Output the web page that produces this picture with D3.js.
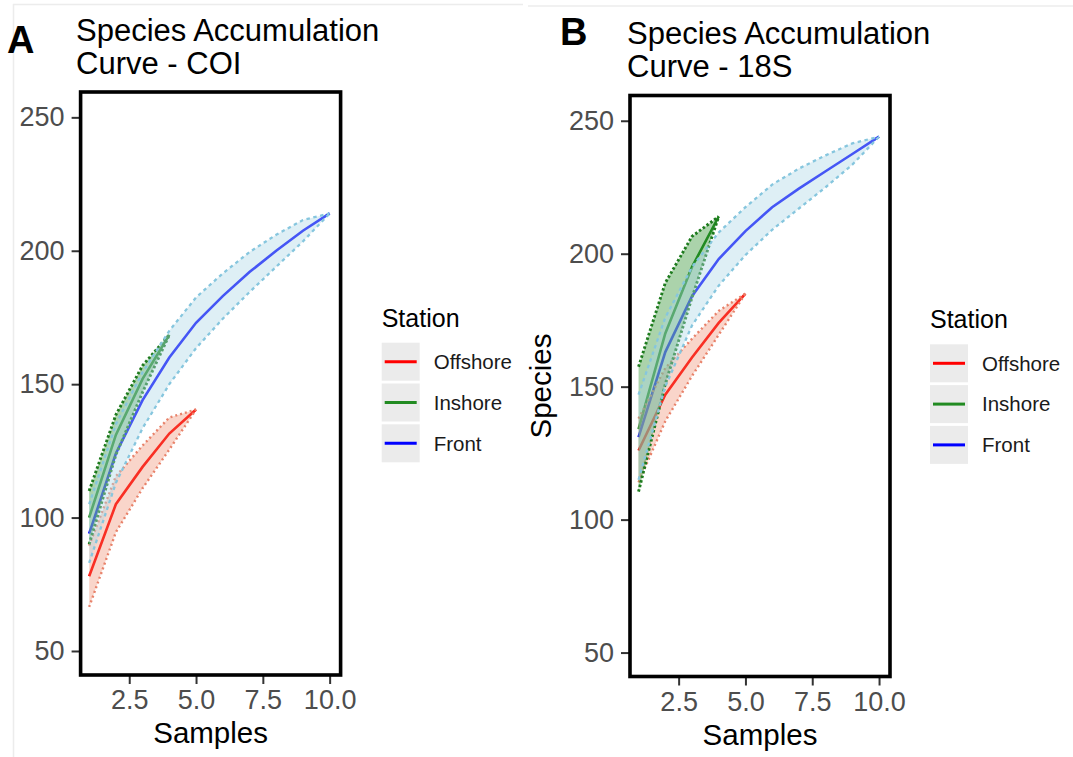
<!DOCTYPE html>
<html>
<head>
<meta charset="utf-8">
<script src="https://cdn.jsdelivr.net/npm/d3@7"></script>
<style>
  body { margin: 0; background: #fff; }
  text { font-family: "Liberation Sans", Arial, sans-serif; }
</style>
</head>
<body>
<svg width="1073" height="757"></svg>
<script>
const stations = ['Offshore', 'Inshore', 'Front'];
const xTicks = [2.5, 5, 7.5, 10];
const yTicks = [50, 100, 150, 200, 250];

// COI: mean richness and sd, index = number of samples - 1
const coiOffshore = [78, 105, 119, 131.5, 140.5];
const coiOffshoreSd = [11.5, 10.5, 8, 6, 0];
const coiInshore = [100, 131, 152, 168.5];
const coiInshoreSd = [10, 7.5, 5, 0];
const coiFront = [94, 124, 144, 160, 173, 183, 192, 200, 207.5, 214];
const coiFrontSd = [11, 11, 10.5, 10, 9.5, 8.5, 7.5, 6, 4, 0];

// 18S
const s18Offshore = [126, 147, 161, 174, 185];
const s18OffshoreSd = [12, 10, 7, 4.5, 0];
const s18Inshore = [134, 170, 195, 214];
const s18InshoreSd = [23.5, 19, 11.5, 0];
const s18Front = [131, 163, 184, 198, 208.5, 217.5, 224.5, 231, 237.5, 244];
const s18FrontSd = [16, 13, 11, 10, 9, 8.5, 7.5, 6, 4, 0];

const lineCol = { Offshore: '#ff0000', Inshore: '#228b22', Front: '#0000ff' };
const fillCol = { Offshore: '#ee8866', Inshore: '#228b22', Front: '#add8e6' };
const fillOp = { Offshore: 0.35, Inshore: 0.38, Front: 0.4 };
const edgeCol = { Offshore: '#e8826a', Inshore: '#1e7b1e', Front: '#86c6de' };
const edgeDash = { Offshore: '2,3', Inshore: '2.5,2.2', Front: '3.5,3.5' };
const edgeW = { Offshore: 2.4, Inshore: 2.9, Front: 2.3 };

const svg = d3.select('svg');

// faint frame lines from the original figure composite
svg.append('line').attr('x1', 13).attr('x2', 523).attr('y1', 4.5).attr('y2', 4.5)
    .attr('stroke', '#ececec').attr('stroke-width', 1.5);
svg.append('line').attr('x1', 13.5).attr('x2', 13.5).attr('y1', 4).attr('y2', 757)
    .attr('stroke', '#ececec').attr('stroke-width', 1.5);
svg.append('line').attr('x1', 528).attr('x2', 1073).attr('y1', 6).attr('y2', 6)
    .attr('stroke', '#ececec').attr('stroke-width', 1.5);

function toRows(mean, sd) {
    return mean.map((m, i) => ({ s: i + 1, m: m, lo: m - sd[i], hi: m + sd[i] }));
}

function panel(opt) {
    const g = svg.append('g');
    const x = d3.scaleLinear().domain([0.68, 10.41]).range([opt.left, opt.left + 260]);
    const y = d3.scaleLinear().domain([41, 259.5]).range([opt.top + opt.h, opt.top]);

    // titles
    g.append('text').attr('x', opt.tagX).attr('y', opt.tagY)
        .attr('font-size', 38).attr('font-weight', 'bold').text(opt.tag);
    g.append('text').attr('x', opt.titleX).attr('y', opt.titleY)
        .attr('font-size', 31).attr('fill', '#000').text('Species Accumulation');
    g.append('text').attr('x', opt.titleX).attr('y', opt.titleY + 33)
        .attr('font-size', 31).attr('fill', '#000').text(opt.title2);

    g.append('rect').attr('x', opt.left).attr('y', opt.top)
        .attr('width', 260).attr('height', opt.h).attr('fill', '#fff');

    const clipId = 'clip' + opt.tag;
    g.append('clipPath').attr('id', clipId).append('rect')
        .attr('x', opt.left).attr('y', opt.top).attr('width', 260).attr('height', opt.h);
    const plot = g.append('g').attr('clip-path', `url(#${clipId})`);

    const line = d3.line().x(d => x(d.s)).y(d => y(d.m));
    const area = d3.area().x(d => x(d.s)).y0(d => y(d.lo)).y1(d => y(d.hi));
    const lo = d3.line().x(d => x(d.s)).y(d => y(d.lo));
    const hi = d3.line().x(d => x(d.s)).y(d => y(d.hi));

    stations.forEach((st, i) => {
        plot.append('path').attr('d', line(opt.series[i]))
            .attr('fill', 'none').attr('stroke', lineCol[st]).attr('stroke-width', 2.6);
    });
    stations.forEach((st, i) => {
        const rows = opt.series[i];
        plot.append('path').attr('d', area(rows))
            .attr('fill', fillCol[st]).attr('fill-opacity', fillOp[st]);
        [lo, hi].forEach(fn => {
            plot.append('path').attr('d', fn(rows)).attr('fill', 'none')
                .attr('stroke', edgeCol[st]).attr('stroke-width', edgeW[st])
                .attr('stroke-dasharray', edgeDash[st]);
        });
    });

    // axes
    const ax = g.append('g').attr('transform', `translate(${opt.left},0)`)
        .call(d3.axisLeft(y).tickValues(yTicks).tickSize(9).tickPadding(7));
    const bx = g.append('g').attr('transform', `translate(0,${opt.top + opt.h})`)
        .call(d3.axisBottom(x).tickValues(xTicks).tickFormat(d3.format('.1f')).tickSize(9).tickPadding(6));
    [ax, bx].forEach(a => {
        a.select('.domain').remove();
        a.selectAll('line').attr('stroke', '#333').attr('stroke-width', 2);
        a.selectAll('text').attr('font-size', 27).attr('fill', '#4d4d4d')
            .attr('font-family', '"Liberation Sans", Arial, sans-serif');
    });

    g.append('rect').attr('x', opt.left).attr('y', opt.top)
        .attr('width', 260).attr('height', opt.h)
        .attr('fill', 'none').attr('stroke', '#000').attr('stroke-width', 3.6);

    g.append('text').attr('x', opt.left + 130).attr('y', opt.top + opt.h + 68)
        .attr('text-anchor', 'middle').attr('font-size', 29.5).text('Samples');
    if (opt.yLabel) {
        g.append('text')
            .attr('transform', `translate(${opt.left - 79},${opt.top + opt.h / 2}) rotate(-90)`)
            .attr('text-anchor', 'middle').attr('font-size', 29.5).text(opt.yLabel);
    }

    // legend
    const lg = g.append('g').attr('transform', `translate(${opt.legX},${opt.legY})`);
    lg.append('text').attr('x', 0).attr('y', 0).attr('font-size', 25).text('Station');
    stations.forEach((st, i) => {
        const k = lg.append('g').attr('transform', `translate(0,${16 + i * 40.8})`);
        k.append('rect').attr('width', 38).attr('height', 38).attr('fill', '#ebebeb');
        k.append('line').attr('x1', 3).attr('x2', 35).attr('y1', 19).attr('y2', 19)
            .attr('stroke', lineCol[st]).attr('stroke-width', 3);
        k.append('text').attr('x', 52).attr('y', 19).attr('dy', '0.36em')
            .attr('font-size', 20.5).attr('fill', '#1a1a1a').text(st);
    });
}

panel({
    tag: 'A', tagX: 7, tagY: 52.5, titleX: 76, titleY: 40.5, title2: 'Curve - COI',
    left: 80.6, top: 92, h: 583,
    series: [toRows(coiOffshore, coiOffshoreSd), toRows(coiInshore, coiInshoreSd), toRows(coiFront, coiFrontSd)],
    legX: 381.7, legY: 326.7
});

panel({
    tag: 'B', tagX: 560, tagY: 45, titleX: 627, titleY: 43.5, title2: 'Curve - 18S',
    left: 630, top: 95.5, h: 581, yLabel: 'Species',
    series: [toRows(s18Offshore, s18OffshoreSd), toRows(s18Inshore, s18InshoreSd), toRows(s18Front, s18FrontSd)],
    legX: 930, legY: 328.3
});
</script>
</body>
</html>
